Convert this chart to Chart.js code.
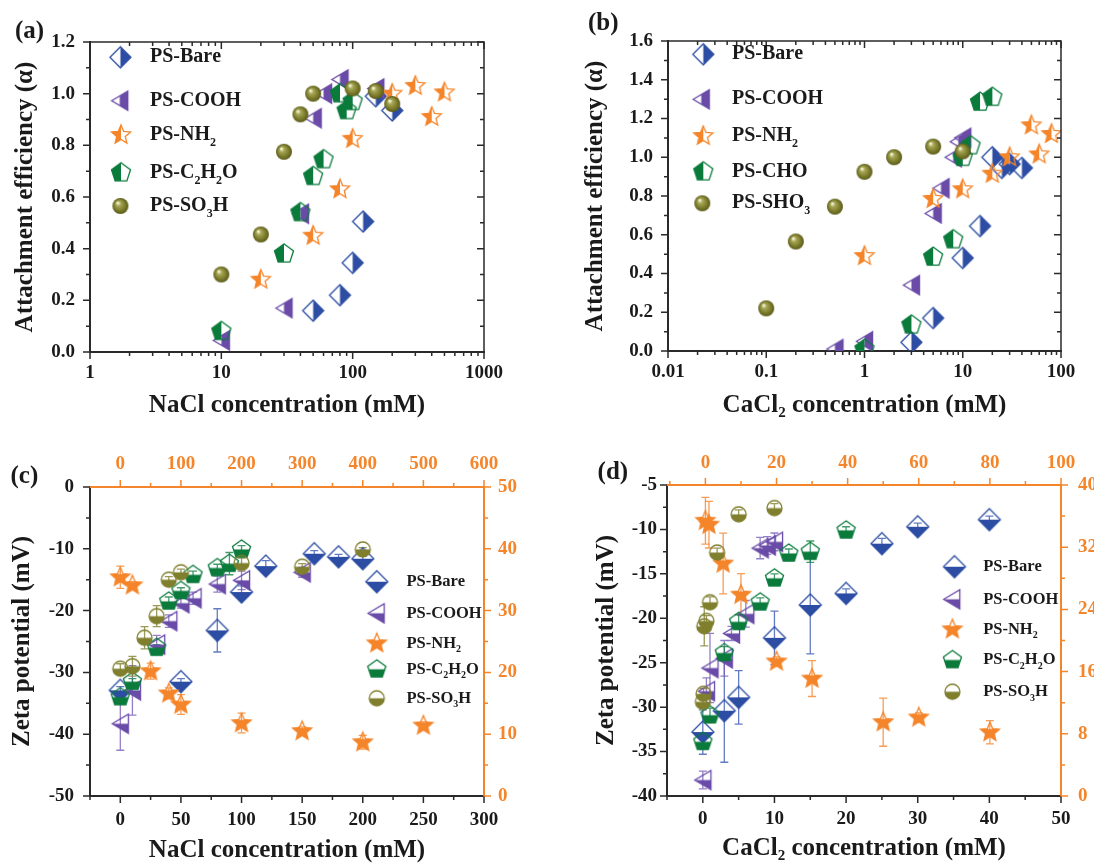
<!DOCTYPE html>
<html>
<head>
<meta charset="utf-8">
<script src="https://cdn.jsdelivr.net/npm/chart.js@4.4.1/dist/chart.umd.min.js"></script>
<style>
  html, body { margin: 0; background: #fff; overflow: hidden; }
  canvas { position: absolute; }
</style>
</head>
<body>
<canvas id="chartA" width="547" height="430" style="left:0;top:0"></canvas>
<canvas id="chartB" width="547" height="430" style="left:547px;top:0"></canvas>
<canvas id="chartC" width="547" height="433" style="left:0;top:430px"></canvas>
<canvas id="chartD" width="547" height="433" style="left:547px;top:430px"></canvas>
<script>
// ---- data ----
const namesNa = ['PS-Bare', 'PS-COOH', 'PS-NH₂', 'PS-C₂H₂O', 'PS-SO₃H'];
const namesCa = ['PS-Bare', 'PS-COOH', 'PS-NH₂', 'PS-CHO', 'PS-SHO₃'];

// (a) attachment efficiency vs NaCl (mM)
const aBareX = [50, 80, 100, 120, 150, 200];
const aBareY = [0.16, 0.22, 0.345, 0.505, 0.99, 0.935];
const aCoohX = [10, 30, 40, 50, 60, 80, 150];
const aCoohY = [0.045, 0.17, 0.535, 0.905, 1.0, 1.055, 1.02];
const aNh2X = [20, 50, 80, 100, 200, 300, 400, 500];
const aNh2Y = [0.28, 0.45, 0.63, 0.825, 1.0, 1.03, 0.91, 1.005];
const aChoX = [10, 30, 40, 50, 60, 80, 90, 100];
const aChoY = [0.08, 0.38, 0.54, 0.68, 0.745, 1.0, 0.935, 0.97];
const aSo3hX = [10, 20, 30, 40, 50, 100, 150, 200];
const aSo3hY = [0.30, 0.455, 0.775, 0.92, 1.0, 1.02, 1.01, 0.96];

// (b) attachment efficiency vs CaCl2 (mM)
const bBareX = [3, 5, 10, 15, 20, 25, 30, 40];
const bBareY = [0.045, 0.17, 0.48, 0.645, 1.0, 0.945, 0.965, 0.945];
const bCoohX = [0.5, 1, 3, 5, 6, 8, 9, 10];
const bCoohY = [0.01, 0.05, 0.34, 0.71, 0.84, 1.0, 1.08, 1.1];
const bNh2X = [1, 5, 10, 20, 30, 50, 60, 80];
const bNh2Y = [0.49, 0.785, 0.835, 0.915, 1.0, 1.165, 1.015, 1.12];
const bChoX = [1, 3, 5, 8, 10, 12, 15, 20];
const bChoY = [0.01, 0.135, 0.485, 0.575, 1.0, 1.06, 1.285, 1.31];
const bSho3X = [0.1, 0.2, 0.5, 1, 2, 5, 10];
const bSho3Y = [0.22, 0.565, 0.745, 0.925, 1.0, 1.055, 1.03];

// (c) zeta potential vs NaCl (mM); NH2 uses the orange top/right axes
const cBareX = [0, 50, 80, 100, 120, 160, 180, 200];
const cBareY = [-32.9, -31.5, -23.2, -17.0, -12.8, -10.8, -11.3, -11.6];
const cBareErr = [0.6, 0.5, 3.5, 1.0, 0.9, 0.5, 0.4, 0.4];
const cCoohX = [0, 10, 30, 40, 50, 60, 80, 100, 150];
const cCoohY = [-38.3, -32.9, -25.5, -21.7, -18.8, -18.0, -15.7, -15.1, -13.8];
const cCoohErr = [4.3, 4.0, 1.5, 1.0, 0.8, 1.0, 1.3, 1.5, 0.8];
const cNh2X = [0, 20, 50, 80, 100, 200, 300, 400, 500];
const cNh2Y = [35.4, 34.1, 20.2, 16.6, 14.8, 11.8, 10.5, 8.7, 11.4];
const cNh2Err = [1.8, 0.6, 1.3, 0.9, 1.6, 1.6, 0.7, 1.1, 0.6];
const cChoX = [0, 10, 30, 40, 50, 60, 80, 90, 100];
const cChoY = [-34.0, -31.5, -26.0, -18.5, -16.8, -14.2, -13.1, -12.4, -10.1];
const cChoErr = [0.8, 0.5, 0.5, 0.7, 0.5, 0.6, 0.6, 1.8, 0.6];
const cSo3hX = [0, 10, 20, 30, 40, 50, 100, 150, 200];
const cSo3hY = [-29.4, -29.0, -24.4, -20.9, -15.0, -13.8, -12.3, -12.9, -10.1];
const cSo3hErr = [0.8, 1.6, 1.8, 1.7, 0.5, 0.5, 0.8, 0.5, 0.3];

// (d) zeta potential vs CaCl2 (mM); NH2 uses the orange top/right axes
const dBareX = [0, 3, 5, 10, 15, 20, 25, 30, 40];
const dBareY = [-32.8, -30.4, -28.9, -22.2, -18.5, -17.2, -11.6, -9.7, -8.9];
const dBareErr = [2.5, 5.8, 3.0, 3.0, 5.5, 0.5, 0.6, 0.4, 0.4];
const dCoohX = [0, 0.5, 1, 3, 4, 6, 8, 9, 10];
const dCoohY = [-38.2, -28.2, -25.6, -24.5, -21.7, -19.5, -12.1, -11.8, -11.4];
const dCoohErr = [1.0, 1.5, 3.9, 2.0, 0.8, 1.5, 1.2, 1.0, 1.0];
const dNh2X = [0, 1, 5, 10, 20, 30, 50, 60, 80];
const dNh2Y = [35.4, 34.9, 29.9, 25.9, 17.3, 15.1, 9.5, 10.1, 8.2];
const dNh2Err = [3.0, 3.0, 3.9, 2.7, 0.6, 2.3, 3.1, 0.6, 1.5];
const dChoX = [0, 1, 3, 5, 8, 10, 12, 15, 20];
const dChoY = [-33.9, -30.9, -23.9, -20.4, -18.2, -15.5, -12.7, -12.5, -10.1];
const dChoErr = [0.8, 0.8, 0.7, 0.8, 0.5, 0.5, 0.5, 1.2, 0.4];
const dSo3hX = [0, 0.1, 0.2, 0.5, 1, 2, 5, 10];
const dSo3hY = [-29.4, -28.5, -20.9, -20.3, -18.2, -12.6, -8.3, -7.6];
const dSo3hErr = [0.6, 0.6, 2.2, 0.6, 0.6, 0.5, 0.5, 0.5];

// tick labels
const aXTicks = [1, 10, 100, 1000];
const aYTicks = [0, 0.2, 0.4, 0.6, 0.8, 1.0, 1.2];
const bXTicks = [0.01, 0.1, 1, 10, 100];
const bYTicks = [0, 0.2, 0.4, 0.6, 0.8, 1.0, 1.2, 1.4, 1.6];
const cXTicks = [0, 50, 100, 150, 200, 250, 300];
const cYTicks = [0, -10, -20, -30, -40, -50];
const cTopTicks = [0, 100, 200, 300, 400, 500, 600];
const cRightTicks = [0, 10, 20, 30, 40, 50];
const dXTicks = [0, 10, 20, 30, 40, 50];
const dYTicks = [-5, -10, -15, -20, -25, -30, -35, -40];
const dTopTicks = [0, 20, 40, 60, 80, 100];
const dRightTicks = [0, 8, 16, 24, 32, 40];

// ---- styling ----
const FONT = '"Liberation Serif", "Times New Roman", serif';
const INK = '#1a1a1a';
const AXIS = '#2a2a2a';
const ORANGE = '#F5852A';
const BLUE = '#2C4DA3', PURPLE = '#6A4BA8', GREEN = '#0B7B3C', OLIVE = '#7F7F2E';

function shapePath(g, shape, r) {
  g.beginPath();
  if (shape === 'diamond') {
    g.moveTo(0, -r); g.lineTo(r, 0); g.lineTo(0, r); g.lineTo(-r, 0);
  } else if (shape === 'tri') {
    g.moveTo(-0.85 * r, 0); g.lineTo(0.85 * r, -r); g.lineTo(0.85 * r, r);
  } else if (shape === 'star') {
    for (let k = 0; k < 10; k++) {
      const rr = k % 2 ? r * 0.45 : r;
      const a = -Math.PI / 2 + k * Math.PI / 5;
      g.lineTo(rr * Math.cos(a), rr * Math.sin(a));
    }
  } else if (shape === 'pent') {
    for (let k = 0; k < 5; k++) {
      const a = -Math.PI / 2 + k * 2 * Math.PI / 5;
      g.lineTo(r * Math.cos(a), r * Math.sin(a));
    }
  } else {
    g.arc(0, 0, r, 0, Math.PI * 2);
  }
  g.closePath();
}

// half-filled marker drawn to a small canvas, used as pointStyle
function marker(shape, color, side, size) {
  const c = document.createElement('canvas');
  c.width = c.height = size + 4;
  const g = c.getContext('2d');
  const r = size / 2;
  g.translate(c.width / 2, c.height / 2);
  if (shape === 'ball') {
    const grad = g.createRadialGradient(-0.35 * r, -0.4 * r, 0.05 * r, 0, 0, r);
    grad.addColorStop(0, '#fbfbe6');
    grad.addColorStop(0.28, '#a6a655');
    grad.addColorStop(0.7, '#7b7b2c');
    grad.addColorStop(1, '#5a5a1a');
    shapePath(g, 'circle', r);
    g.fillStyle = grad;
    g.fill();
    return c;
  }
  g.save();
  shapePath(g, shape, r);
  g.clip();
  g.fillStyle = color;
  const m = r + 2;
  if (side === 'right') g.fillRect(0, -m, m, 2 * m);
  else if (side === 'left') g.fillRect(-m, -m, m, 2 * m);
  else if (side === 'bottom') g.fillRect(-m, 0, 2 * m, m);
  else if (side === 'lower') g.fillRect(-m, -0.32 * r, 2 * m, m + r);
  g.restore();
  shapePath(g, shape, r);
  g.strokeStyle = color;
  g.lineWidth = 1.3;
  g.stroke();
  return c;
}

const stylesAB = [
  marker('diamond', BLUE, 'right', 21),
  marker('tri', PURPLE, 'right', 19),
  marker('star', ORANGE, 'left', 20),
  marker('pent', GREEN, 'left', 20),
  marker('ball', OLIVE, null, 16)
];
const stylesCD = [
  marker('diamond', BLUE, 'bottom', 22),
  marker('tri', PURPLE, 'bottom', 19),
  marker('star', ORANGE, 'lower', 20),
  marker('pent', GREEN, 'bottom', 19),
  marker('circle', OLIVE, 'bottom', 15)
];
const errColors = ['rgba(60,90,180,0.8)', 'rgba(120,95,185,0.8)', 'rgba(245,133,42,0.8)', 'rgba(20,130,70,0.8)', 'rgba(128,128,48,0.8)'];

function series(label, xs, ys, style, extra) {
  return Object.assign({
    label: label,
    data: xs.map((x, i) => ({ x: x, y: ys[i] })),
    pointStyle: style,
    pointRadius: 10,
    showLine: false,
    clip: 0
  }, extra || {});
}
function stackOrder(list) {
  list.forEach((d, i) => { d.order = list.length - i; });
  return list;
}

const SUB = '₀₁₂₃₄₅₆₇₈₉';
function richText(ctx, text, x, y, size) {
  for (const ch of text) {
    const k = SUB.indexOf(ch);
    if (k >= 0) {
      ctx.font = 'bold ' + Math.round(size * 0.62) + 'px ' + FONT;
      ctx.fillText(String(k), x, y + size * 0.4);
      x += ctx.measureText(String(k)).width;
    } else {
      ctx.font = 'bold ' + size + 'px ' + FONT;
      ctx.fillText(ch, x, y);
      x += ctx.measureText(ch).width;
    }
  }
}

// legend inside the plot + panel letter
const inLegend = {
  id: 'inLegend',
  afterDraw(chart, args, o) {
    const ctx = chart.ctx;
    ctx.save();
    ctx.fillStyle = INK;
    ctx.textBaseline = 'middle';
    ctx.textAlign = 'left';
    chart.data.datasets.forEach((ds, i) => {
      const p = o.marks[i];
      const img = ds.pointStyle;
      ctx.drawImage(img, p[0] - img.width / 2, p[1] - img.height / 2);
      richText(ctx, ds.label, o.textX, p[1], o.size);
    });
    ctx.font = 'bold 25px ' + FONT;
    ctx.fillText(o.panel[0], o.panel[1], o.panel[2]);
    ctx.restore();
  }
};

// tick marks (major + minor) and mirrored frame
const frame = {
  id: 'frame',
  afterDraw(chart, args, o) {
    const ctx = chart.ctx, a = chart.chartArea;
    ctx.save();
    if (o.mirror) {
      ctx.strokeStyle = AXIS;
      ctx.lineWidth = 1.5;
      ctx.beginPath();
      ctx.moveTo(a.left, a.top); ctx.lineTo(a.right, a.top); ctx.lineTo(a.right, a.bottom);
      ctx.stroke();
    }
    o.marks.forEach(t => {
      const sc = chart.scales[t.scale];
      ctx.strokeStyle = t.color;
      ctx.lineWidth = 1.5;
      ctx.beginPath();
      t.values.forEach(v => {
        const p = sc.getPixelForValue(v);
        if (t.side === 'bottom') { ctx.moveTo(p, a.bottom); ctx.lineTo(p, a.bottom + t.len); }
        if (t.side === 'top') { ctx.moveTo(p, a.top); ctx.lineTo(p, a.top - t.len); }
        if (t.side === 'left') { ctx.moveTo(a.left, p); ctx.lineTo(a.left - t.len, p); }
        if (t.side === 'right') { ctx.moveTo(a.right, p); ctx.lineTo(a.right + t.len, p); }
      });
      ctx.stroke();
    });
    ctx.restore();
  }
};

// vertical error bars behind the markers
const errBars = {
  id: 'errBars',
  beforeDatasetsDraw(chart) {
    const ctx = chart.ctx;
    ctx.save();
    chart.data.datasets.forEach((ds, i) => {
      if (!ds.err) return;
      const meta = chart.getDatasetMeta(i);
      const ys = chart.scales[ds.yAxisID];
      ctx.strokeStyle = ds.errColor;
      ctx.lineWidth = 1.3;
      meta.data.forEach((pt, j) => {
        const v = ds.data[j].y, e = ds.err[j];
        const y1 = ys.getPixelForValue(v + e), y2 = ys.getPixelForValue(v - e);
        ctx.beginPath();
        ctx.moveTo(pt.x, y1); ctx.lineTo(pt.x, y2);
        ctx.moveTo(pt.x - 4, y1); ctx.lineTo(pt.x + 4, y1);
        ctx.moveTo(pt.x - 4, y2); ctx.lineTo(pt.x + 4, y2);
        ctx.stroke();
      });
    });
    ctx.restore();
  }
};

function axis(o) {
  return {
    type: o.type || 'linear',
    position: o.pos,
    min: o.min,
    max: o.max,
    grid: { display: false, drawTicks: false },
    border: { display: true, color: o.color || AXIS, width: 2 },
    ticks: {
      autoSkip: false, maxRotation: 0, minRotation: 0,
      padding: o.pad,
      color: o.color || INK,
      font: { family: FONT, size: o.fs || 19, weight: 'bold' },
      callback: o.fmt || (v => String(v))
    },
    afterBuildTicks: s => { s.ticks = o.ticks.map(v => ({ value: v })); },
    afterFit: s => {
      if (o.w != null) s.width = o.w;
      if (o.h != null) s.height = o.h;
    },
    title: o.title
      ? { display: true, text: o.title, color: INK, font: { family: FONT, size: 25, weight: 'bold', lineHeight: 1 }, padding: o.tpad }
      : { display: false }
  };
}

function logMinor(from, to) {
  const out = [];
  for (let d = from; d < to; d *= 10) for (let k = 2; k <= 9; k++) out.push(+(k * d).toPrecision(3));
  return out;
}
function midTicks(major) {
  const out = [];
  for (let i = 0; i < major.length - 1; i++) out.push((major[i] + major[i + 1]) / 2);
  return out;
}
function tickSet(scale, side, major, minor, color, len) {
  return [
    { scale, side, values: major, len: len, color },
    { scale, side, values: minor, len: len > 0 ? 4 : -4, color }
  ];
}

function base(padding, scales, frameOpts, legendOpts) {
  return {
    responsive: false,
    animation: false,
    events: [],
    layout: { padding },
    plugins: {
      legend: { display: false },
      tooltip: { enabled: false },
      frame: frameOpts,
      inLegend: legendOpts
    },
    scales
  };
}

// ---- (a) ----
new Chart(document.getElementById('chartA'), {
  type: 'scatter',
  data: {
    datasets: stackOrder([
      series(namesNa[0], aBareX, aBareY, stylesAB[0]),
      series(namesNa[1], aCoohX, aCoohY, stylesAB[1]),
      series(namesNa[2], aNh2X, aNh2Y, stylesAB[2]),
      series(namesNa[3], aChoX, aChoY, stylesAB[3]),
      series(namesNa[4], aSo3hX, aSo3hY, stylesAB[4])
    ])
  },
  options: base({ left: 0, top: 42, right: 63, bottom: 0 }, {
    x: axis({ type: 'logarithmic', pos: 'bottom', min: 1, max: 1000, ticks: aXTicks, pad: 10, h: 78,
      title: 'NaCl concentration (mM)', tpad: { bottom: 12 } }),
    y: axis({ pos: 'left', min: 0, max: 1.2, ticks: aYTicks, pad: 15, w: 90, fmt: v => v.toFixed(1),
      title: 'Attachment efficiency (α)', tpad: { top: 13 } })
  }, {
    mirror: true,
    marks: [].concat(
      tickSet('x', 'bottom', aXTicks, logMinor(1, 1000), AXIS, 7),
      tickSet('x', 'top', aXTicks, logMinor(1, 1000), AXIS, -7),
      tickSet('y', 'left', aYTicks, midTicks(aYTicks), AXIS, 7),
      tickSet('y', 'right', aYTicks, midTicks(aYTicks), AXIS, -7))
  }, {
    marks: [[120.4, 57.3], [119.7, 100.7], [121, 135], [121, 172.7], [120.4, 206]],
    textX: 150, size: 20, panel: ['(a)', 15, 31.5]
  }),
  plugins: [frame, inLegend]
});

// ---- (b) ----
new Chart(document.getElementById('chartB'), {
  type: 'scatter',
  data: {
    datasets: stackOrder([
      series(namesCa[0], bBareX, bBareY, stylesAB[0]),
      series(namesCa[1], bCoohX, bCoohY, stylesAB[1]),
      series(namesCa[2], bNh2X, bNh2Y, stylesAB[2]),
      series(namesCa[3], bChoX, bChoY, stylesAB[3]),
      series(namesCa[4], bSho3X, bSho3Y, stylesAB[4])
    ])
  },
  options: base({ left: 0, top: 41, right: 33, bottom: 0 }, {
    x: axis({ type: 'logarithmic', pos: 'bottom', min: 0.01, max: 100, ticks: bXTicks, pad: 10, h: 79,
      title: 'CaCl₂ concentration (mM)', tpad: { bottom: 12 } }),
    y: axis({ pos: 'left', min: 0, max: 1.6, ticks: bYTicks, pad: 15, w: 121, fmt: v => v.toFixed(1),
      title: 'Attachment efficiency (α)', tpad: { top: 36 } })
  }, {
    mirror: true,
    marks: [].concat(
      tickSet('x', 'bottom', bXTicks, logMinor(0.01, 100), AXIS, 7),
      tickSet('x', 'top', bXTicks, logMinor(0.01, 100), AXIS, -7),
      tickSet('y', 'left', bYTicks, midTicks(bYTicks), AXIS, 7),
      tickSet('y', 'right', bYTicks, midTicks(bYTicks), AXIS, -7))
  }, {
    marks: [[156.3, 54.3], [154.2, 99.3], [156.3, 136], [156.3, 171.7], [155.3, 203.3]],
    textX: 185, size: 20, panel: ['(b)', 41, 24]
  }),
  plugins: [frame, inLegend]
});

// ---- (c) ----
new Chart(document.getElementById('chartC'), {
  type: 'scatter',
  data: {
    datasets: stackOrder([
      series(namesNa[0], cBareX, cBareY, stylesCD[0], { err: cBareErr, errColor: errColors[0], xAxisID: 'x', yAxisID: 'y' }),
      series(namesNa[1], cCoohX, cCoohY, stylesCD[1], { err: cCoohErr, errColor: errColors[1], xAxisID: 'x', yAxisID: 'y' }),
      series(namesNa[2], cNh2X, cNh2Y, stylesCD[2], { err: cNh2Err, errColor: errColors[2], xAxisID: 'x2', yAxisID: 'y2' }),
      series(namesNa[3], cChoX, cChoY, stylesCD[3], { err: cChoErr, errColor: errColors[3], xAxisID: 'x', yAxisID: 'y' }),
      series(namesNa[4], cSo3hX, cSo3hY, stylesCD[4], { err: cSo3hErr, errColor: errColors[4], xAxisID: 'x', yAxisID: 'y' })
    ])
  },
  options: base(0, {
    x: axis({ pos: 'bottom', min: -25, max: 300, ticks: cXTicks, pad: 13, h: 67,
      title: 'NaCl concentration (mM)', tpad: { bottom: 0 } }),
    y: axis({ pos: 'left', min: -50, max: 0, ticks: cYTicks, pad: 16, w: 90,
      title: 'Zeta potential (mV)', tpad: { top: 10 } }),
    x2: axis({ pos: 'top', min: -50, max: 600, ticks: cTopTicks, pad: 12, h: 57, color: ORANGE }),
    y2: axis({ pos: 'right', min: 0, max: 50, ticks: cRightTicks, pad: 14, w: 63, color: ORANGE })
  }, {
    mirror: false,
    marks: [].concat(
      tickSet('x', 'bottom', cXTicks, [-25, 25, 75, 125, 175, 225, 275], AXIS, 7),
      tickSet('y', 'left', cYTicks, midTicks(cYTicks), AXIS, 7),
      tickSet('x2', 'top', cTopTicks, [50, 150, 250, 350, 450, 550], ORANGE, 7),
      tickSet('y2', 'right', cRightTicks, midTicks(cRightTicks), ORANGE, 7))
  }, {
    marks: [[376.8, 151.7], [376.1, 183.3], [376.8, 213.3], [376.8, 239.3], [376.8, 268.3]],
    textX: 406.5, size: 16.5, panel: ['(c)', 10.5, 47]
  }),
  plugins: [errBars, frame, inLegend]
});

// ---- (d) ----
new Chart(document.getElementById('chartD'), {
  type: 'scatter',
  data: {
    datasets: stackOrder([
      series(namesNa[0], dBareX, dBareY, stylesCD[0], { err: dBareErr, errColor: errColors[0], xAxisID: 'x', yAxisID: 'y' }),
      series(namesNa[1], dCoohX, dCoohY, stylesCD[1], { err: dCoohErr, errColor: errColors[1], xAxisID: 'x', yAxisID: 'y' }),
      series(namesNa[2], dNh2X, dNh2Y, stylesCD[2], { err: dNh2Err, errColor: errColors[2], xAxisID: 'x2', yAxisID: 'y2' }),
      series(namesNa[3], dChoX, dChoY, stylesCD[3], { err: dChoErr, errColor: errColors[3], xAxisID: 'x', yAxisID: 'y' }),
      series(namesNa[4], dSo3hX, dSo3hY, stylesCD[4], { err: dSo3hErr, errColor: errColors[4], xAxisID: 'x', yAxisID: 'y' })
    ])
  },
  options: base(0, {
    x: axis({ pos: 'bottom', min: -5, max: 50, ticks: dXTicks, pad: 12, h: 67,
      title: 'CaCl₂ concentration (mM)', tpad: { bottom: 1.5 } }),
    y: axis({ pos: 'left', min: -40, max: -5, ticks: dYTicks, pad: 10, w: 120,
      title: 'Zeta potential (mV)', tpad: { top: 47 } }),
    x2: axis({ pos: 'top', min: -10.8, max: 100, ticks: dTopTicks, pad: 11, h: 55, color: ORANGE }),
    y2: axis({ pos: 'right', min: 0, max: 40, ticks: dRightTicks, pad: 17, w: 33, color: ORANGE })
  }, {
    mirror: false,
    marks: [].concat(
      tickSet('x', 'bottom', dXTicks, [-5, 5, 15, 25, 35, 45], AXIS, 7),
      tickSet('y', 'left', dYTicks, midTicks(dYTicks), AXIS, 7),
      tickSet('x2', 'top', dTopTicks, [-10, 10, 30, 50, 70, 90], ORANGE, 7),
      tickSet('y2', 'right', dRightTicks, midTicks(dRightTicks), ORANGE, 7))
  }, {
    marks: [[407.5, 136.7], [404.7, 169.3], [405.4, 199.3], [405.4, 230], [405.4, 261.7]],
    textX: 436.2, size: 16.5, panel: ['(d)', 50.6, 43]
  }),
  plugins: [errBars, frame, inLegend]
});
</script>
</body>
</html>
